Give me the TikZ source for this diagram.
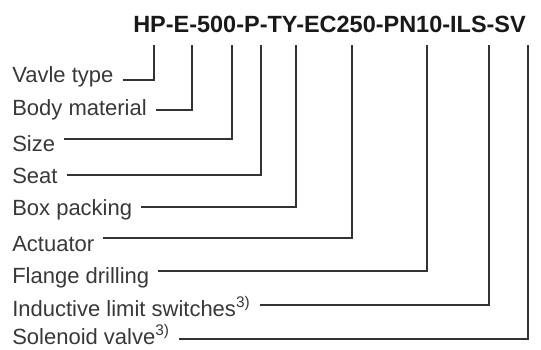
\documentclass[tikz,border=0pt]{standalone}
\usepackage{fontspec}
\setmainfont{Liberation Sans}
\usepackage{tikz}
\tikzset{
  lbl/.style={anchor=base west, inner xsep=6.75pt, inner ysep=0pt, font=\fontsize{16.5}{18}\selectfont, text=black!78},
  lead/.style={draw=black!80, line width=0.8pt},
}
\begin{document}
\begin{tikzpicture}[x=0.75pt,y=0.75pt,yscale=-1,xscale=1]
\useasboundingbox (0,0) rectangle (541,349);

%Type code
\node[anchor=base west, inner sep=0pt, font=\bfseries\fontsize{17.6}{20}\selectfont, text=black!90] (code) at (133,33) {HP-E-500-P-TY-EC250-PN10-ILS-SV};

%Tops of the lead lines, under the code
\coordinate (tHP) at (154,45);
\coordinate (tE) at (192,45);
\coordinate (tSize) at (232,45);
\coordinate (tP) at (261,45);
\coordinate (tTY) at (296,45);
\coordinate (tEC) at (352,45);
\coordinate (tPN) at (427,45);
\coordinate (tILS) at (489,45);
\coordinate (tSV) at (528,45);

%Labels
\node[lbl] (vtype) at (3,83) {Vavle type};
\node[lbl] (body) at (3,115) {Body material};
\node[lbl] (size) at (3,151) {Size};
\node[lbl] (seat) at (3,183) {Seat};
\node[lbl] (box) at (3,215) {Box packing};
\node[lbl] (act) at (3,251) {Actuator};
\node[lbl] (flange) at (3,283) {Flange drilling};
\node[lbl] (ils) at (3,316) {Inductive limit switches\textsuperscript{3)}};
\node[lbl] (sv) at (3,344) {Solenoid valve\textsuperscript{3)}};

%Lead lines
\draw[lead] (vtype.east |- 0,80) -| (tHP);
\draw[lead] (body.east |- 0,110) -| (tE);
\draw[lead] (size.east |- 0,139) -| (tSize);
\draw[lead] (seat.east |- 0,175) -| (tP);
\draw[lead] (box.east |- 0,207) -| (tTY);
\draw[lead] (act.east |- 0,238) -| (tEC);
\draw[lead] (flange.east |- 0,271) -| (tPN);
\draw[lead] (ils.east |- 0,305) -| (tILS);
\draw[lead] (sv.east |- 0,339) -| (tSV);

\end{tikzpicture}
\end{document}
